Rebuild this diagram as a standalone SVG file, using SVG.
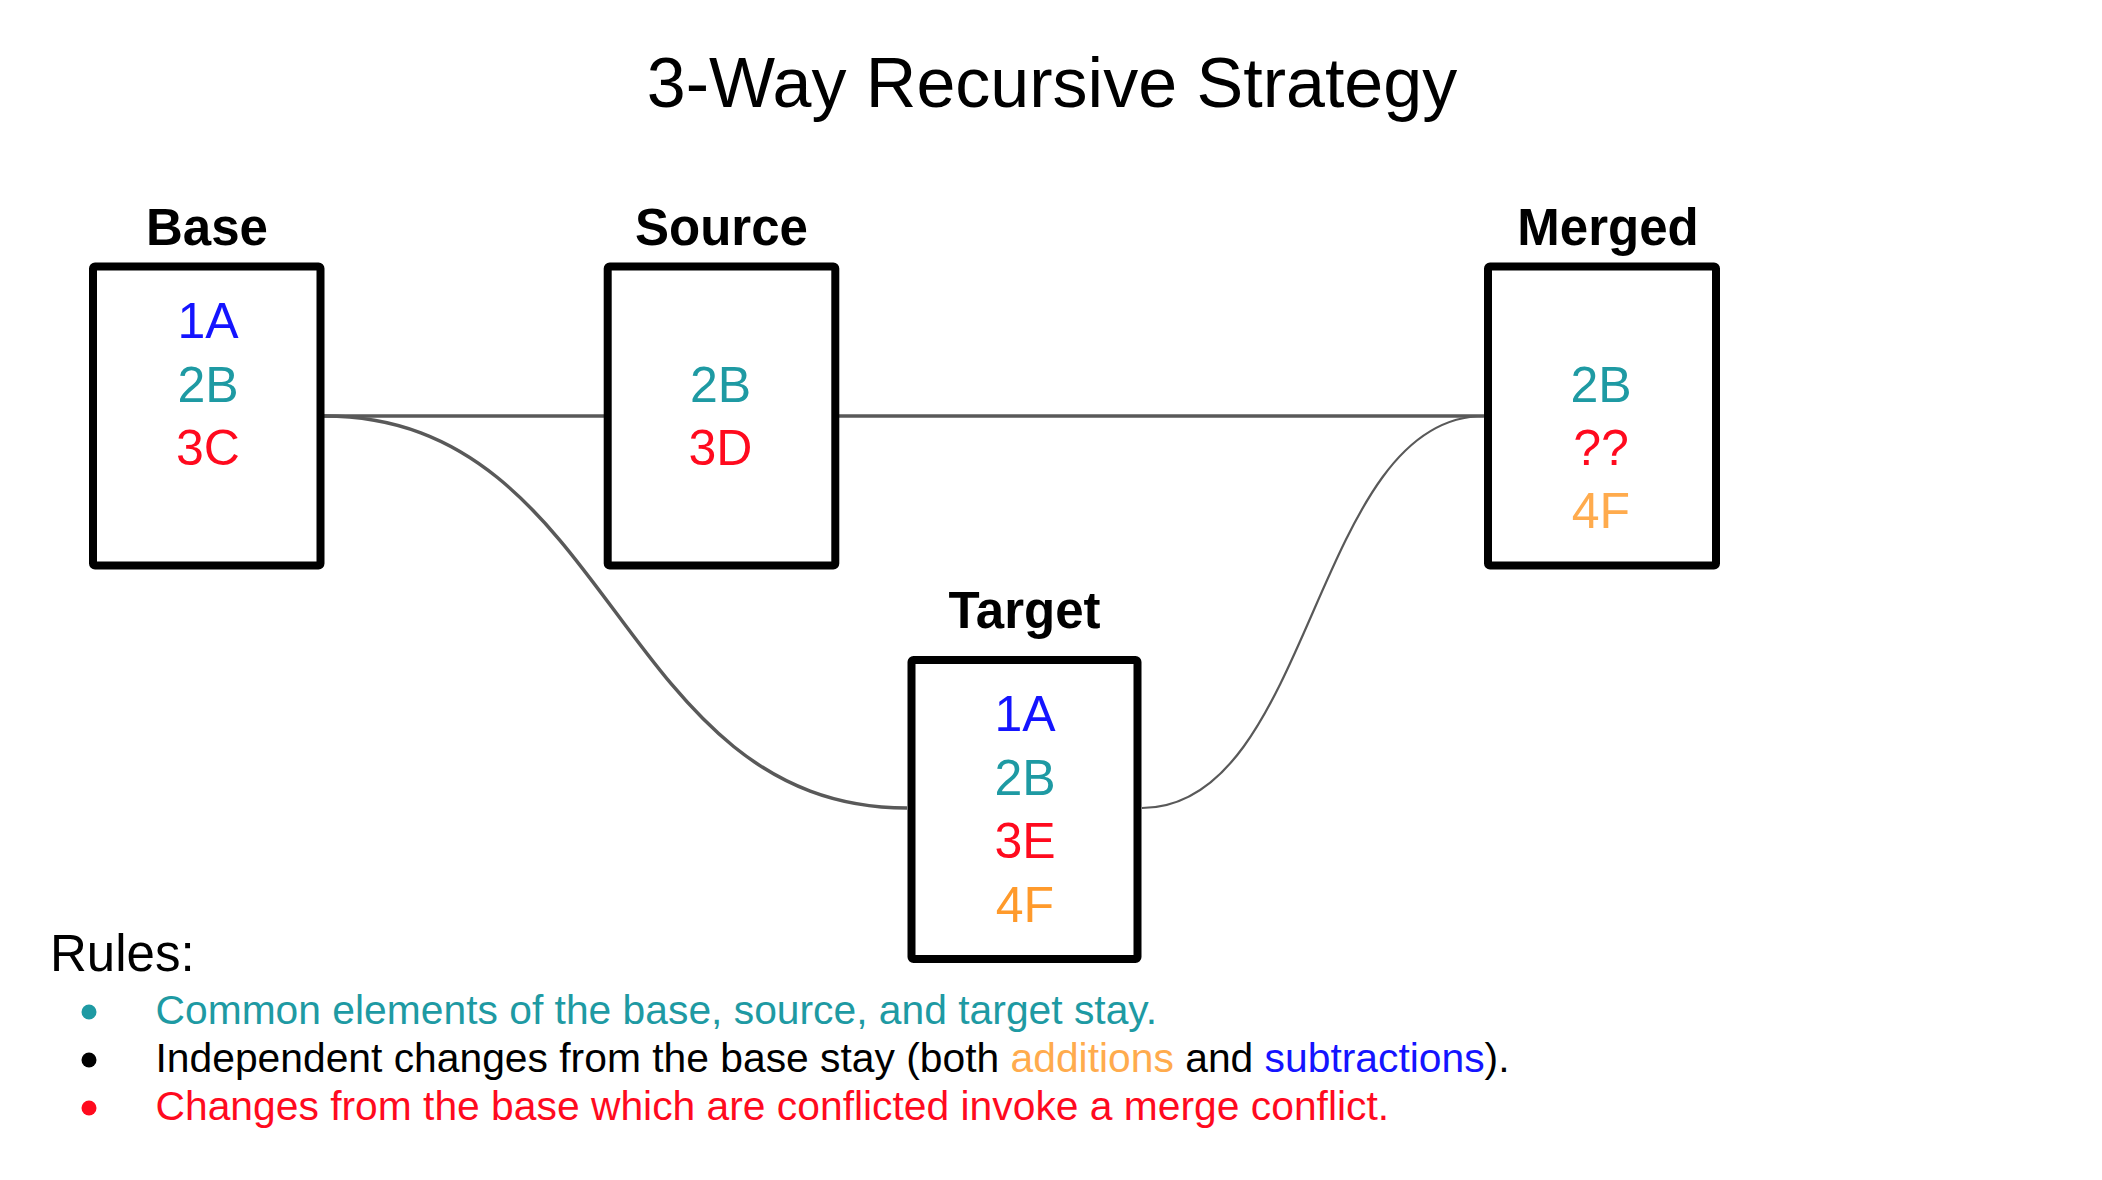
<svg xmlns="http://www.w3.org/2000/svg" width="2102" height="1180" viewBox="0 0 2102 1180">
<style>
  text { font-family: "Liberation Sans", Arial, sans-serif; }
  .title { font-size: 70px; fill: #000; text-anchor: middle; }
  .label { font-size: 51px; font-weight: bold; fill: #000; text-anchor: middle; }
  .box { fill: #fff; stroke: #000; stroke-width: 8; }
  .item { font-size: 50px; text-anchor: middle; }
  .blue { fill: #1414ff; }
  .teal { fill: #1e9aa3; }
  .red { fill: #ff0a1e; }
  .orange { fill: #ffab4d; }
  .orange2 { fill: #ff9a2b; }
  .black { fill: #000; }
  .conn { fill: none; stroke: #595959; stroke-width: 3.5; }
  .conn-thin { fill: none; stroke: #595959; stroke-width: 2.2; }
  .rules { font-size: 51px; fill: #000; }
  .rule { font-size: 40.8px; }
</style>
<rect width="2102" height="1180" fill="#fff"/>
<text class="title" x="1052" y="107">3-Way Recursive Strategy</text>

<g id="connectors">
  <path class="conn" d="M324 416 L604 416"/>
  <path class="conn" d="M839 416 L1484 416"/>
  <path class="conn" d="M324 416 C615.5 416 615.5 808 907 808"/>
  <path class="conn-thin" d="M1142 808 C1313 808 1313 416 1484 416"/>
</g>

<g id="base">
  <text class="label" x="207" y="245">Base</text>
  <rect class="box" x="93" y="266.5" width="227.5" height="299" rx="2"/>
  <text class="item blue" x="208" y="338">1A</text>
  <text class="item teal" x="208" y="401.5">2B</text>
  <text class="item red" x="208" y="464.5">3C</text>
</g>

<g id="source">
  <text class="label" x="721.5" y="245">Source</text>
  <rect class="box" x="607.7" y="266.5" width="227.6" height="299" rx="2"/>
  <text class="item teal" x="720.5" y="401.5">2B</text>
  <text class="item red" x="720.5" y="464.5">3D</text>
</g>

<g id="merged">
  <text class="label" x="1608" y="245">Merged</text>
  <rect class="box" x="1488" y="266.5" width="228" height="299" rx="2"/>
  <text class="item teal" x="1601" y="401.5">2B</text>
  <text class="item red" x="1601" y="464.5">??</text>
  <text class="item orange" x="1601" y="528">4F</text>
</g>

<g id="target">
  <text class="label" x="1024.5" y="628">Target</text>
  <rect class="box" x="911.5" y="660" width="226" height="299" rx="2"/>
  <text class="item blue" x="1025" y="731">1A</text>
  <text class="item teal" x="1025" y="794.5">2B</text>
  <text class="item red" x="1025" y="858">3E</text>
  <text class="item orange2" x="1025" y="921.5">4F</text>
</g>

<g id="rules">
  <text class="rules" x="50" y="971">Rules:</text>
  <circle cx="89" cy="1012" r="7.5" fill="#1e9aa3"/>
  <text class="rule teal" x="155.5" y="1024">Common elements of the base, source, and target stay.</text>
  <circle cx="89" cy="1060" r="7.5" fill="#000"/>
  <text class="rule black" x="155.5" y="1072">Independent changes from the base stay (both <tspan class="orange">additions</tspan> and <tspan class="blue">subtractions</tspan>).</text>
  <circle cx="89" cy="1108" r="7.5" fill="#ff0a1e"/>
  <text class="rule red" x="155.5" y="1120">Changes from the base which are conflicted invoke a merge conflict.</text>
</g>
</svg>
